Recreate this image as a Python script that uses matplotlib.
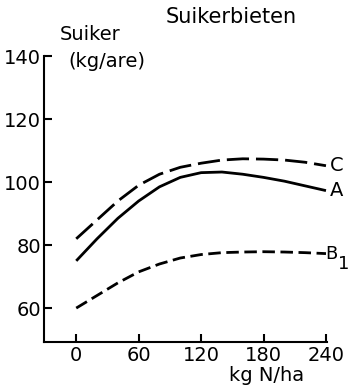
import matplotlib.pyplot as plt
import numpy as np

# stikstof (kg N/ha) en suikeropbrengst (kg/are)
n_gift = [0, 20, 40, 60, 80, 100, 120, 140, 160, 180, 200, 220, 240]
suiker_a = [75, 82, 88.5, 94, 98.5, 101.5, 103, 103.2, 102.5, 101.5, 100.3, 98.8, 97.3]
suiker_c = [82, 88, 94, 99, 102.5, 104.7, 106, 107, 107.4, 107.3, 107, 106.3, 105.2]
suiker_b1 = [60, 64, 68, 71.5, 74, 75.9, 77, 77.6, 77.8, 77.9, 77.8, 77.6, 77.3]
xticks = [0, 60, 120, 180, 240]
yticks = [60, 80, 100, 120, 140]

fig = plt.figure(figsize=(3.49, 3.87), dpi=100)
ax = fig.add_axes([0.126, 0.116, 0.811, 0.739])

ax.plot(n_gift, suiker_a, color='k', lw=2.0, solid_capstyle='butt')
ax.plot(n_gift, suiker_c, color='k', lw=2.0, dashes=(8, 2.5))
ax.plot(n_gift, suiker_b1, color='k', lw=2.0, dashes=(4.5, 2))

fs = 14
ax.text(244, suiker_c[-1], 'C', fontsize=fs, va='center', ha='left')
ax.text(244, suiker_a[-1], 'A', fontsize=fs, va='center', ha='left')
ax.text(239.5, suiker_b1[-1], 'B', fontsize=13, va='center', ha='left')
ax.text(251.5, suiker_b1[-1] - 3.3, '1', fontsize=13, va='center', ha='left')

ax.set_xlim(-31, 241)
ax.set_ylim(49.2, 140)
ax.set_xticks(xticks)
ax.set_yticks(yticks)
ax.spines['top'].set_visible(False)
ax.spines['right'].set_visible(False)
ax.spines['left'].set_linewidth(1.5)
ax.spines['bottom'].set_linewidth(1.5)
ax.tick_params(direction='in', length=6, width=1.5, labelsize=fs, pad=2)
ax.tick_params(axis='x', pad=3)

fig.text(0.475, 0.955, 'Suikerbieten', fontsize=15, va='center', ha='left')
fig.text(0.17, 0.91, 'Suiker', fontsize=fs, va='center', ha='left')
fig.text(0.195, 0.84, '(kg/are)', fontsize=fs, va='center', ha='left')
fig.text(0.655, 0.03, 'kg N/ha', fontsize=fs, va='center', ha='left')

fig.savefig('out.png', dpi=100)
